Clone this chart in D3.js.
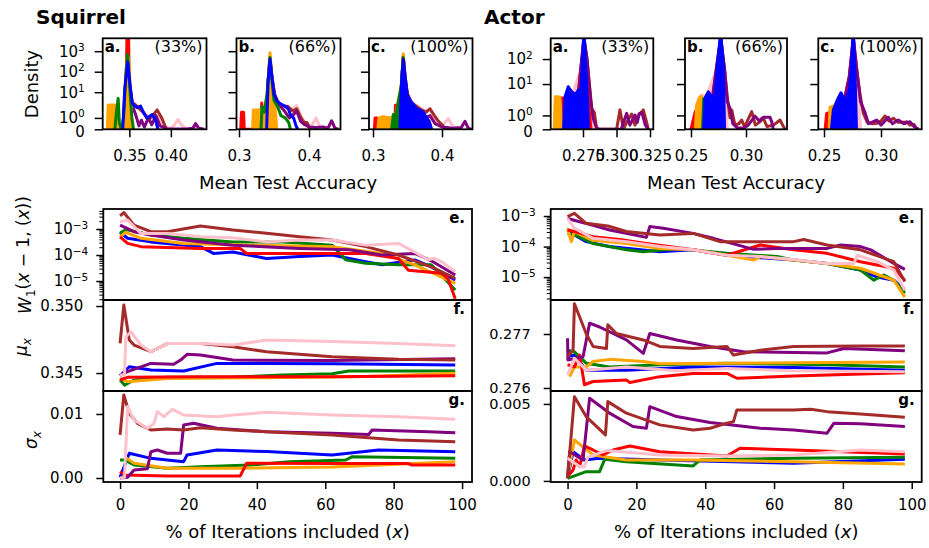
<!DOCTYPE html>
<html>
<head>
<meta charset="utf-8">
<script src="https://cdn.jsdelivr.net/npm/d3@7"></script>
<style>
  body { margin: 0; background: #fff; }
  text { font-family: "DejaVu Sans", sans-serif; }
</style>
</head>
<body>
<svg width="929" height="548"></svg>
<script>
// ---------------- data ----------------
const colors = { red: "#ff0000", orange: "#ffa500", green: "#008000", blue: "#0000ff",
                 purple: "#800080", brown: "#a52a2a", pink: "#ffc0cb" };

// density curves: [mean test accuracy, density]
const squirrel33 = {
  pink:   [[0.343,0],[0.3455,30],[0.348,500],[0.3505,25],[0.354,3],[0.36,2],[0.366,1.5],[0.372,1.2],[0.378,1.0],[0.385,1.1],[0.392,0.3],[0.399,0.05],[0.4045,0.4],[0.4085,0.85],[0.4125,0.4],[0.418,0.05],[0.43,0.1],[0.44,0]],
  brown:  [[0.343,0],[0.3455,30],[0.348,500],[0.3505,20],[0.3535,3],[0.357,2.5],[0.362,1.8],[0.367,1.5],[0.3725,0.8],[0.378,1.2],[0.3835,1.7],[0.389,1.0],[0.3945,0]],
  purple: [[0.343,0],[0.3455,25],[0.348,400],[0.3505,15],[0.354,2],[0.358,1.2],[0.3615,0.3],[0.3645,0.8],[0.368,0.2],[0.373,1.0],[0.377,0.4],[0.382,1.2],[0.387,0.3],[0.395,0.05],[0.42,0.02],[0.4265,0.1],[0.4298,0.5],[0.4335,0.1],[0.44,0]],
  red:    [[0.3445,0],[0.3462,40],[0.3472,8000],[0.349,8000],[0.3498,40],[0.351,0]],
  orange: [[0.3235,0],[0.3245,2.3],[0.329,2.4],[0.334,2.3],[0.3355,0],[0.3425,0.3],[0.3455,60],[0.3478,650],[0.3495,300],[0.352,4],[0.3535,0]],
  green:  [[0.3325,0],[0.3345,1.5],[0.3365,5],[0.338,0.5],[0.3405,0],[0.343,1],[0.3455,40],[0.3478,700],[0.3495,80],[0.3515,4],[0.353,1],[0.355,0]],
  blue:   [[0.342,0],[0.3445,15],[0.348,300],[0.351,20],[0.3535,3],[0.3555,2.3],[0.3595,1.9],[0.3635,2.1],[0.3675,1.4],[0.3715,1.0],[0.3775,1.3],[0.3815,0.8],[0.3845,0]]
};
const squirrel66 = {
  pink:   [[0.339,0],[0.3415,30],[0.3443,500],[0.347,60],[0.351,8],[0.357,3],[0.365,2],[0.374,1.6],[0.3824,2.2],[0.39,1.0],[0.397,0.4],[0.4035,0.3],[0.41,1.0],[0.415,0.3],[0.42,0]],
  brown:  [[0.339,0],[0.3415,30],[0.3443,500],[0.347,60],[0.351,8],[0.356,3],[0.362,2.2],[0.37,2],[0.377,1.6],[0.3824,1.8],[0.3885,1.0],[0.393,0.6],[0.397,0.6],[0.402,0]],
  purple: [[0.339,0],[0.3415,25],[0.3443,400],[0.347,50],[0.351,6],[0.357,2.5],[0.365,1.6],[0.372,1.0],[0.378,1.3],[0.3824,1.6],[0.388,0.7],[0.394,0.4],[0.4,0.2],[0.41,0.15],[0.42,0.2],[0.427,0.1],[0.4324,0.75],[0.437,0.1],[0.442,0]],
  red:    [[0.3025,0],[0.3035,1.5],[0.3065,1.5],[0.3075,0],[0.331,0],[0.3325,3],[0.334,0.5],[0.341,5],[0.344,500],[0.347,30],[0.35,0]],
  orange: [[0.3195,0],[0.3205,1.7],[0.337,1.7],[0.3405,10],[0.3443,850],[0.347,40],[0.351,3],[0.354,0]],
  green:  [[0.3315,0],[0.333,2],[0.336,1.5],[0.34,8],[0.3443,500],[0.347,40],[0.35,4],[0.355,2],[0.36,1.2],[0.366,1.0],[0.371,0.6],[0.3735,0]],
  blue:   [[0.3395,0],[0.3415,30],[0.3443,400],[0.347,60],[0.35,8],[0.3538,4],[0.3585,2.8],[0.3633,2.3],[0.367,2],[0.3705,1.8],[0.374,1.2],[0.378,1.0],[0.3815,0.3],[0.384,0]]
};
const squirrel100 = {
  pink:   [[0.338,0],[0.3415,40],[0.3439,600],[0.3465,60],[0.35,8],[0.357,3],[0.366,2],[0.375,1.6],[0.3826,1.8],[0.39,0.8],[0.397,0.3],[0.403,0.5],[0.4092,0.95],[0.414,0.4],[0.42,0.1],[0.43,0]],
  brown:  [[0.338,0],[0.3415,40],[0.3439,600],[0.3465,60],[0.35,8],[0.356,3],[0.363,2],[0.37,1.7],[0.377,1.5],[0.3826,1.8],[0.389,1.2],[0.395,0.7],[0.4,0.4],[0.405,0]],
  purple: [[0.338,0],[0.3415,30],[0.3439,500],[0.3465,50],[0.35,6],[0.357,2.5],[0.366,1.5],[0.375,1.0],[0.3826,1.2],[0.39,0.5],[0.4,0.2],[0.415,0.1],[0.428,0.15],[0.4333,0.7],[0.438,0.1],[0.443,0]],
  red:    [[0.302,0],[0.303,1],[0.3055,1],[0.3065,0],[0.3185,0],[0.3195,1],[0.3215,1],[0.3225,0],[0.3315,0],[0.3325,2.3],[0.3345,2.3],[0.337,1],[0.3415,20],[0.3439,600],[0.3465,20],[0.349,0]],
  orange: [[0.307,0],[0.3085,1],[0.315,1.1],[0.325,1.0],[0.333,1.3],[0.3415,30],[0.3439,750],[0.3465,40],[0.349,3],[0.353,2],[0.358,1.6],[0.363,1.4],[0.368,1.0],[0.372,0.7],[0.3745,0]],
  green:  [[0.327,0],[0.3295,1.3],[0.333,1.2],[0.341,20],[0.3439,500],[0.3465,20],[0.351,2.5],[0.3536,3],[0.357,1],[0.36,0]],
  blue:   [[0.339,0],[0.3415,40],[0.3439,400],[0.3465,60],[0.3495,8],[0.3536,4],[0.3585,2.5],[0.3633,1.8],[0.368,1.7],[0.3729,1.5],[0.3778,1],[0.3815,0.7],[0.385,0]]
};
const actor33 = {
  pink:   [[0.263,0],[0.2665,3],[0.2735,40],[0.2757,600],[0.278,60],[0.281,1],[0.283,0]],
  brown:  [[0.262,0],[0.2665,3],[0.2715,4],[0.2735,50],[0.2757,700],[0.278,100],[0.2805,4],[0.2815,1.5],[0.2835,1.2],[0.2852,0],[0.3001,0],[0.3026,1.4],[0.3051,0],[0.3076,0.5],[0.3113,1.1],[0.3138,0.3],[0.3165,1.0],[0.32,1.4],[0.3225,0.5],[0.3237,0]],
  purple: [[0.262,0],[0.2665,3],[0.2715,4],[0.2735,50],[0.2757,700],[0.278,100],[0.2805,3],[0.2825,0.8],[0.2852,0.1],[0.287,0],[0.3035,0],[0.3076,1.15],[0.31,0.3],[0.3138,1.03],[0.3155,0.5],[0.317,1.15],[0.319,1.2],[0.3215,0.3],[0.3237,0]],
  red:    [[0.2575,0],[0.2585,2.8],[0.261,2.7],[0.2625,3.5],[0.2635,0],[0.272,3],[0.2757,300],[0.279,2],[0.281,0]],
  orange: [[0.2535,0],[0.2543,3.1],[0.2578,3.0],[0.259,0]],
  green:  [[0.2715,0],[0.2728,4],[0.2742,4],[0.2757,200],[0.277,2],[0.278,0]],
  blue:   [[0.2605,0],[0.2615,3],[0.264,7.8],[0.2665,5],[0.2678,4.3],[0.2695,4],[0.2715,5.7],[0.2728,3],[0.2745,60],[0.2757,1500],[0.277,60],[0.2785,2],[0.279,0]]
};
const actor66 = {
  pink:   [[0.2585,0],[0.2597,3.6],[0.264,3.5],[0.2735,40],[0.277,600],[0.2805,30],[0.283,0]],
  brown:  [[0.265,0],[0.27,4],[0.2735,60],[0.277,700],[0.2805,40],[0.283,3],[0.2855,0.83],[0.287,1.4],[0.29,0.3],[0.2935,0.4],[0.2961,0.67],[0.2985,0.2],[0.3006,0.5],[0.3052,1.27],[0.3085,0.3],[0.312,0.5],[0.3158,0.8],[0.319,0.2],[0.325,0.3],[0.3309,0.67],[0.334,0.2],[0.3355,0]],
  purple: [[0.265,0],[0.27,4],[0.2735,60],[0.277,700],[0.2805,40],[0.283,2],[0.2855,1.5],[0.288,0.4],[0.292,0.1],[0.298,0.1],[0.302,0.3],[0.3082,0.95],[0.312,0.6],[0.3158,0.87],[0.3218,0.87],[0.3235,0.5],[0.3248,0]],
  red:    [[0.25,0],[0.2536,1.2],[0.2552,1.5],[0.2575,2.6],[0.259,1],[0.261,0]],
  orange: [[0.254,0],[0.2552,1.8],[0.2582,3.1],[0.2597,3.2],[0.261,0]],
  green:  [[0.2605,0],[0.2615,2.5],[0.2645,2.5],[0.266,0],[0.2705,0],[0.2712,2],[0.2722,0]],
  blue:   [[0.2615,0],[0.2627,2.7],[0.2658,4.9],[0.2688,3.1],[0.2718,3.6],[0.2735,30],[0.277,1200],[0.2794,50],[0.2805,0]]
};
const actor100 = {
  pink:   [[0.256,0],[0.262,2],[0.27,3],[0.2757,600],[0.279,20],[0.282,0]],
  brown:  [[0.264,0],[0.2684,3],[0.2722,20],[0.2757,700],[0.279,30],[0.282,3],[0.2845,1.15],[0.288,0.5],[0.2925,0.4],[0.2962,0.43],[0.3,0.6],[0.3035,0.96],[0.307,0.6],[0.3108,0.8],[0.315,0.5],[0.32,0.5],[0.3225,0.55],[0.3254,0.3],[0.329,0.35],[0.3313,0]],
  purple: [[0.264,0],[0.2684,3],[0.2722,20],[0.2757,700],[0.279,30],[0.282,2],[0.286,1.2],[0.289,0.4],[0.2962,0.67],[0.3,0.3],[0.3064,0.87],[0.31,0.4],[0.3152,0.67],[0.32,0.4],[0.3254,0.55],[0.329,0.2],[0.333,0]],
  red:    [[0.251,0],[0.2523,1.15],[0.2545,1.2],[0.256,0]],
  orange: [[0.2545,0],[0.2553,1.6],[0.2596,1.7],[0.2605,0],[0.265,0],[0.2665,2],[0.2705,2],[0.272,0]],
  green:  [[0.2665,0],[0.2684,2.1],[0.27,1.5],[0.2743,1.27],[0.275,0]],
  blue:   [[0.2565,0],[0.2582,1.4],[0.262,2.5],[0.2649,4.5],[0.2668,3],[0.2684,1.9],[0.27,3],[0.2722,5.7],[0.274,40],[0.2757,1500],[0.2772,30],[0.2785,0]]
};

// which density series show as solid areas in each dataset
const squirrelFilled = ["red", "orange"];
const squirrel100Filled = ["red", "orange", "green", "blue"];
const actorFilled = ["red", "orange", "green", "blue", "pink"];

// convergence curves: [% of iterations, value]
const squirrelW1 = {
  blue:   [[0,7.5e-4],[2.2,4.4e-4],[9,3.2e-4],[23.5,2.1e-4],[27.3,1.15e-4],[33,1.3e-4],[42.8,7.4e-5],[52.5,8.7e-5],[62,1.0e-4],[71.8,5.5e-5],[76.6,4.2e-5],[86.2,6.5e-5],[91,3.5e-5],[98,1.1e-5]],
  green:  [[0,6.8e-4],[1.7,9.5e-4],[9,5.9e-4],[18.6,4.4e-4],[33,3.2e-4],[47.6,3.2e-4],[62,2.4e-4],[66,6.5e-5],[71.8,4.8e-5],[81.4,4.2e-5],[91,4.2e-5],[98,4.5e-6]],
  orange: [[0,5.0e-4],[1.7,7.5e-4],[6.1,4.4e-4],[18.6,2.8e-4],[38,2.4e-4],[62,2.1e-4],[76.6,1.15e-4],[86.2,4.2e-5],[98,8.1e-6]],
  red:    [[0,5.0e-4],[2.2,2.8e-4],[6.1,2.1e-4],[23.5,1.8e-4],[35.1,1.8e-4],[37,1.15e-4],[52.5,1.15e-4],[71.8,1.15e-4],[81.4,7.4e-5],[84.3,2.6e-5],[94,2.0e-5],[95.9,1.2e-5],[98,2.1e-6]],
  purple: [[0,1.4e-3],[4.1,7.9e-4],[9,5.9e-4],[18.6,3.8e-4],[33,2.4e-4],[52.5,1.8e-4],[67,1.6e-4],[76.6,1.0e-4],[86.2,1.15e-4],[91,6e-5],[98,1.7e-5]],
  brown:  [[0,3.2e-3],[1.1,4.3e-3],[4.1,1.4e-3],[9,7.9e-4],[13.8,7.9e-4],[23.5,1.3e-3],[33,9.1e-4],[42.8,6.9e-4],[52.5,5.0e-4],[62,3.8e-4],[71.8,2.1e-4],[81.4,1.0e-4],[91,3.5e-5],[98,1.26e-5]],
  pink:   [[0,1.9e-3],[2.2,2.2e-3],[6.1,6.8e-4],[13.8,6.8e-4],[23.5,5.0e-4],[33,4.6e-4],[42.8,3.2e-4],[52.5,3.8e-4],[62,3.8e-4],[71.8,2.4e-4],[81.4,2.8e-4],[86.2,1.3e-4],[90,6.5e-5],[92,7.5e-5],[94,5.5e-5],[98,2.3e-5]]
};
const squirrelMu = {
  blue:   [[0,0.3448],[2.7,0.34547],[9,0.34522],[18.6,0.34515],[28.3,0.34572],[42.8,0.34572],[62,0.3457],[98,0.3456]],
  green:  [[0,0.34448],[1.3,0.3441],[4.1,0.34448],[13.8,0.34468],[33,0.3447],[47.6,0.34485],[62,0.34495],[66.9,0.34515],[98,0.34515]],
  orange: [[0,0.3446],[2.2,0.34435],[13.8,0.3446],[42.8,0.34465],[71.8,0.34475],[98,0.34498]],
  red:    [[0,0.34448],[2.2,0.34468],[23.5,0.34472],[62,0.34472],[98,0.3448]],
  purple: [[0,0.34485],[2.2,0.3451],[9,0.34572],[15.7,0.34565],[17.7,0.34597],[19.6,0.3464],[23.5,0.34635],[33,0.34597],[62,0.34594],[98,0.34607]],
  brown:  [[0,0.34722],[1.1,0.35007],[2.7,0.34746],[4.1,0.34709],[9,0.34659],[13.8,0.3472],[23.5,0.3472],[33,0.34696],[42.8,0.34659],[62,0.34622],[81.4,0.34602],[98,0.34597]],
  pink:   [[0,0.34485],[1.3,0.34485],[1.7,0.34771],[3.2,0.34808],[6.1,0.34709],[9,0.34659],[13.8,0.3472],[23.5,0.3472],[33,0.34709],[42.8,0.34746],[62,0.34735],[81.4,0.3472],[98,0.34704]]
};
const squirrelSigma = {
  blue:   [[0,0.0001],[2.7,0.00386],[9,0.00307],[18.6,0.00255],[19.6,0.00359],[28.3,0.00438],[42.8,0.00412],[62,0.00359],[75.6,0.00438],[98,0.00411]],
  green:  [[0,0.00281],[1.3,0.00281],[4.1,0.00203],[13.8,0.00151],[23.5,0.00177],[38,0.00203],[49.6,0.00255],[66,0.00281],[67.9,0.00333],[98,0.00307]],
  orange: [[1.3,0.00333],[4.1,0.0023],[13.8,0.00151],[33,0.00151],[62,0.0017],[98,0.00255]],
  red:    [[0,0.00099],[1.3,0.00047],[13.8,0.0003],[35.1,0.0003],[37,0.0023],[62,0.00225],[84.3,0.00225],[85.3,0.00203],[98,0.00203]],
  purple: [[0,0],[2.2,0.0001],[4.1,0.00125],[8,0.00145],[9,0.00411],[10.9,0.00438],[13.8,0.00386],[17.7,0.00386],[18.6,0.00828],[21.5,0.00854],[28.3,0.00776],[42.8,0.00724],[62,0.00698],[72.7,0.0068],[73.7,0.0075],[90.1,0.00724],[98,0.00708]],
  brown:  [[0,0.00672],[1.1,0.01297],[2.7,0.0101],[5.1,0.00854],[9,0.0075],[13.8,0.00766],[18.6,0.0075],[23.5,0.00786],[33,0.0075],[42.8,0.00724],[62,0.00672],[81.4,0.00594],[98,0.00568]],
  pink:   [[0,0],[1.3,0.0001],[2.2,0.01115],[4.1,0.00906],[8,0.00776],[9.9,0.0085],[10.9,0.01037],[12.8,0.00958],[15.3,0.01073],[18.6,0.00984],[28.3,0.00958],[33,0.00984],[42.8,0.01026],[62,0.00984],[81.4,0.00958],[98,0.00917]]
};
const actorW1 = {
  blue:   [[0,3.5e-4],[2,2.4e-4],[5.4,1.45e-4],[12.2,1e-4],[26.8,6.8e-5],[36.5,7.8e-5],[46.3,5.2e-5],[65.7,3.6e-5],[75.4,2.8e-5],[85.1,1.7e-5],[90,1.0e-5],[94.8,7.9e-6],[98,3.7e-6]],
  green:  [[0,2.7e-4],[2,2.4e-4],[7.4,1.26e-4],[17.1,7.8e-5],[22,6.8e-5],[31.7,8.7e-5],[46.3,6e-5],[60.9,4.7e-5],[65.7,3.6e-5],[75.4,2.8e-5],[85.1,1.7e-5],[89,7.9e-6],[91.9,1.17e-5],[94.8,7.9e-6],[98,2.95e-6]],
  orange: [[0,4e-4],[1.1,1.45e-4],[2,3.1e-4],[7.4,1.6e-4],[17.1,1.26e-4],[26.8,8.7e-5],[36.5,7.8e-5],[46.3,5.2e-5],[54.1,3.6e-5],[56,4.7e-5],[65.7,3.6e-5],[75.4,2.8e-5],[85.1,1.95e-5],[94.8,7.9e-6],[98,2.2e-6]],
  red:    [[0,3.5e-4],[2,3.1e-4],[7.4,2.1e-4],[15.1,1.7e-4],[22.9,1.26e-4],[36.5,7.8e-5],[46.3,5.2e-5],[56,1.12e-4],[65.7,7.8e-5],[75.4,6e-5],[85.1,3.2e-5],[94.8,1.95e-5],[98,7.9e-6]],
  purple: [[0,8.3e-4],[1.6,7.4e-4],[7.4,5e-4],[12.2,3.5e-4],[22.9,2.0e-4],[23.9,4.5e-4],[27.8,4e-4],[36.5,2.7e-4],[42.4,1.86e-4],[54.1,8.1e-5],[60.9,8.7e-5],[75.4,8.7e-5],[79.3,1.12e-4],[85.1,1.0e-4],[88.1,7.8e-5],[94.8,2.8e-5],[98,1.8e-5]],
  brown:  [[0,9.5e-4],[2,1.23e-3],[5.4,5.75e-4],[11.7,4.7e-4],[17.1,3.1e-4],[26.8,2.4e-4],[36.5,2.7e-4],[44.3,1.45e-4],[65.7,1.45e-4],[68.6,1.7e-4],[75.4,1.12e-4],[85.1,7.8e-5],[94.8,3.2e-5],[98,7.1e-6]],
  pink:   [[0,8.3e-4],[2,4e-4],[7.4,1.86e-4],[17.1,1.45e-4],[26.8,1e-4],[36.5,7.8e-5],[46.3,5.2e-5],[56,4.7e-5],[65.7,3.8e-5],[75.4,2.8e-5],[83.2,2.8e-5],[84.2,5.2e-5],[90,3.2e-5],[94.8,1.7e-5],[98,3.7e-6]]
};
const actorMu = {
  blue:   [[0,0.27658],[2,0.27661],[5.4,0.27633],[17.1,0.27633],[36.5,0.27639],[65.7,0.27638],[98,0.27633]],
  green:  [[0,0.2767],[2,0.27667],[5.4,0.27646],[12.2,0.27639],[26.8,0.27643],[46.3,0.27646],[75.4,0.27643],[98,0.27639]],
  orange: [[0.6,0.27621],[2,0.27639],[5.4,0.27639],[7.4,0.27649],[12.2,0.27653],[22,0.27649],[26.8,0.27645],[46.3,0.27646],[98,0.27648]],
  red:    [[0,0.27643],[2,0.27639],[3.5,0.27661],[4.9,0.27606],[7.4,0.27612],[17.1,0.27615],[18.1,0.2761],[26.8,0.27621],[36.5,0.27627],[46.3,0.27627],[49.2,0.27618],[65.7,0.27622],[98,0.27628]],
  purple: [[0,0.27692],[0.1,0.27652],[4.5,0.27658],[6.4,0.2772],[9.3,0.27713],[17.1,0.27689],[22,0.27664],[23.9,0.27701],[31.7,0.27689],[41.4,0.27677],[51.1,0.27667],[75.4,0.27665],[80.3,0.27673],[98,0.27669]],
  brown:  [[0,0.27658],[1.6,0.2767],[2,0.27756],[5.4,0.27701],[7.4,0.27677],[11.3,0.27673],[11.7,0.27717],[14.2,0.27701],[22,0.27689],[26.8,0.27677],[36.5,0.27673],[46.3,0.27677],[48.2,0.27661],[56,0.2767],[65.7,0.27677],[85.1,0.27678],[98,0.27678]],
  pink:   [[0,0.27624],[2,0.27655],[5.4,0.27633],[17.1,0.27639],[31.7,0.27632],[46.3,0.27636],[65.7,0.27632],[98,0.2763]]
};
const actorSigma = {
  blue:   [[0,0.00017],[1.6,0.0019],[4.9,0.00136],[9.3,0.00147],[26.8,0.00136],[65.7,0.00115],[98,0.00141]],
  green:  [[0,0.00017],[5.4,0.0006],[9.3,0.0006],[10.8,0.00141],[17.1,0.00125],[36.5,0.00097],[38.5,0.00136],[65.7,0.00147],[98,0.00154]],
  orange: [[0,0.00028],[2,0.00266],[7.4,0.00169],[17.1,0.00136],[36.5,0.00136],[65.7,0.00125],[98,0.0011]],
  red:    [[0,0.00028],[1.6,0.00071],[2.5,0.00136],[3.5,0.00093],[4.9,0.00227],[7.4,0.00201],[10.3,0.00169],[13.2,0.00201],[18.1,0.00227],[26.8,0.0019],[46.3,0.00162],[50.1,0.00212],[65.7,0.00201],[98,0.00175]],
  purple: [[0,0.00028],[0.6,0.0019],[4.5,0.00136],[6.4,0.00537],[12.2,0.0044],[19,0.00353],[22.9,0.00342],[23.9,0.00482],[31.7,0.00418],[41.4,0.00379],[56,0.00342],[65.7,0.00331],[75.4,0.0031],[77.4,0.00375],[85.1,0.00372],[98,0.00353]],
  brown:  [[0,0.00017],[2,0.00547],[5.4,0.00418],[11,0.00299],[11.7,0.00515],[17.1,0.0044],[26.8,0.00364],[36.5,0.00331],[41.4,0.00342],[46.3,0.00375],[48.2,0.00385],[49.2,0.00461],[65.7,0.00461],[70.6,0.00466],[75.4,0.0045],[85.1,0.00435],[98,0.00413]],
  pink:   [[0,0.00147],[3.5,0.00093],[4.9,0.00093],[5.9,0.00154],[11.3,0.00197],[26.8,0.00169],[46.3,0.00162],[65.7,0.00169],[85.1,0.00201],[98,0.0019]]
};

const densityOrder = ["pink", "brown", "purple", "red", "orange", "green", "blue"];
const lineOrder = ["blue", "green", "orange", "red", "purple", "brown", "pink"];

// ---------------- drawing ----------------
const svg = d3.select("svg");
let clipN = 0;

// matplotlib-like symlog (linthresh 2, linscale 1)
const adj = 1 / (1 - 1 / 10);
const symlog = d => d <= 2 ? d * adj : 2 * (adj + Math.log10(d / 2));

function clipRect(x0, x1, y0, y1) {
  const id = "clip" + (clipN++);
  svg.append("clipPath").attr("id", id).append("rect")
    .attr("x", x0).attr("y", y0).attr("width", x1 - x0).attr("height", y1 - y0);
  return `url(#${id})`;
}

function styleAxis(g, fs) {
  g.attr("font-size", null).attr("font-family", null);
  g.select(".domain").remove();
  g.selectAll(".tick line").attr("stroke", "#000").attr("stroke-width", 1.5);
  g.selectAll(".tick text").attr("fill", "#000").style("font-size", fs + "px");
}

function supText(t, base, exp, fs) {
  t.text(null);
  t.append("tspan").text(base);
  t.append("tspan").attr("dy", "-0.55em").style("font-size", (fs * 0.7) + "px").text(exp);
}

function frame(x0, x1, y0, y1) {
  svg.append("rect").attr("x", x0).attr("y", y0).attr("width", x1 - x0).attr("height", y1 - y0)
    .attr("fill", "none").attr("stroke", "#000").attr("stroke-width", 1.8);
}

function drawDensity(x0, x1, xDomain, topUnits, xTicks, xFmt, yTicks, showY, data, filled, letter, pct) {
  const y0 = 38.3, y1 = 129.3;
  const x = d3.scaleLinear().domain(xDomain).range([x0, x1]);
  const yl = d3.scaleLinear().domain([0, topUnits]).range([y1, y0]);
  const area = d3.area().x(d => x(d[0])).y0(y1).y1(d => yl(symlog(d[1])));
  const line = d3.line().x(d => x(d[0])).y(d => yl(symlog(d[1])));

  const g = svg.append("g").attr("clip-path", clipRect(x0, x1, y0, y1));
  densityOrder.forEach(c => {
    if (!data[c]) return;
    const isFilled = filled.includes(c);
    g.append("path").attr("d", isFilled ? area(data[c]) : line(data[c]))
      .attr("fill", isFilled ? colors[c] : "none").attr("stroke", colors[c])
      .attr("stroke-width", 3).attr("stroke-linejoin", "round");
  });

  const ax = svg.append("g").attr("transform", `translate(0,${y1})`)
    .call(d3.axisBottom(x).tickValues(xTicks).tickFormat(xFmt).tickSize(8).tickPadding(13).tickSizeOuter(0));
  styleAxis(ax, 15);

  const ay = svg.append("g").attr("transform", `translate(${x0},0)`)
    .call(d3.axisLeft(yl).tickValues(yTicks.map(symlog)).tickSize(8).tickPadding(10).tickSizeOuter(0));
  styleAxis(ay, 15);
  ay.selectAll(".tick text").each(function(d, i) {
    const t = d3.select(this);
    if (!showY) { t.remove(); return; }
    const v = yTicks[i];
    if (v === 0) t.text("0").attr("dy", "0.45em");
    else supText(t, "10", String(Math.round(Math.log10(v))), 15);
  });

  frame(x0, x1, y0, y1);
  svg.append("text").attr("x", x0 + 2).attr("y", y0 + 14).attr("font-weight", "bold")
    .style("font-size", "15px").text(letter);
  svg.append("text").attr("x", x1 - 4).attr("y", y0 + 14).attr("text-anchor", "end")
    .style("font-size", "16px").text(pct);
}

function drawLines(x0, x1, y0, y1, y, data, letter) {
  const x = d3.scaleLinear().domain([-4.9, 102.9]).range([x0, x1]);
  const line = d3.line().x(d => x(d[0])).y(d => y(d[1]));
  const g = svg.append("g").attr("clip-path", clipRect(x0, x1, y0, y1));
  lineOrder.forEach(c => {
    g.append("path").attr("d", line(data[c])).attr("fill", "none")
      .attr("stroke", colors[c]).attr("stroke-width", 3)
      .attr("stroke-linejoin", "round").attr("stroke-linecap", "butt");
  });
  svg.append("text").attr("x", x1 - 7).attr("y", y0 + 14).attr("text-anchor", "end")
    .attr("font-weight", "bold").style("font-size", "15px").text(letter);
  return x;
}

function logAxis(x0, y, majors, domain, pad) {
  const minors = [];
  for (let k = -7; k <= -1; k++)
    for (let m = 2; m <= 9; m++) {
      const v = m * Math.pow(10, k);
      if (v >= domain[0] && v <= domain[1]) minors.push(v);
    }
  const am = svg.append("g").attr("transform", `translate(${x0},0)`)
    .call(d3.axisLeft(y).tickValues(minors).tickFormat("").tickSize(4).tickSizeOuter(0));
  styleAxis(am, 15);
  am.selectAll(".tick line").attr("stroke-width", 1);
  const a = svg.append("g").attr("transform", `translate(${x0},0)`)
    .call(d3.axisLeft(y).tickValues(majors).tickSize(7).tickPadding(pad).tickSizeOuter(0));
  styleAxis(a, 15);
  a.selectAll(".tick text").each(function(d) {
    supText(d3.select(this), "10", "\u2212" + Math.round(-Math.log10(d)), 15);
  });
}

function linAxis(x0, y, ticks, fmt, pad, fs) {
  const a = svg.append("g").attr("transform", `translate(${x0},0)`)
    .call(d3.axisLeft(y).tickValues(ticks).tickFormat(fmt).tickSize(7).tickPadding(pad).tickSizeOuter(0));
  styleAxis(a, fs);
}

// ---- titles ----
svg.append("text").attr("x", 36).attr("y", 24).attr("font-weight", "bold").style("font-size", "20px").text("Squirrel");
svg.append("text").attr("x", 484).attr("y", 24).attr("font-weight", "bold").style("font-size", "20px").text("Actor");

// ---- density row ----
const f2 = d3.format(".2f"), f1 = d3.format(".1f"), f3 = d3.format(".3f");
drawDensity(102.7, 206.5, [0.3179, 0.4429], 8.88, [0.35, 0.40], f2, [0, 1, 10, 100, 1000], true, squirrel33, squirrelFilled, "a.", "(33%)");
drawDensity(236.5, 340.5, [0.29643, 0.445], 8.88, [0.3, 0.4], f1, [0, 1, 10, 100, 1000], false, squirrel66, squirrelFilled, "b.", "(66%)");
drawDensity(369, 472.5, [0.2942, 0.4442], 8.88, [0.3, 0.4], f1, [0, 1, 10, 100, 1000], false, squirrel100, squirrel100Filled, "c.", "(100%)");
drawDensity(550.7, 653.3, [0.2509, 0.32746], 7.28, [0.275, 0.300, 0.325], f3, [0, 1, 10, 100], true, actor33, actorFilled, "a.", "(33%)");
drawDensity(685, 787, [0.24455, 0.33727], 7.28, [0.25, 0.30], f2, [0, 1, 10, 100], false, actor66, actorFilled, "b.", "(66%)");
drawDensity(818.3, 921.7, [0.245, 0.3357], 7.28, [0.25, 0.30], f2, [0, 1, 10, 100], false, actor100, actorFilled, "c.", "(100%)");

svg.append("text").attr("transform", "translate(38,84) rotate(-90)").attr("text-anchor", "middle")
  .style("font-size", "18px").text("Density");
svg.append("text").attr("x", 288).attr("y", 189).attr("text-anchor", "middle").style("font-size", "18px").text("Mean Test Accuracy");
svg.append("text").attr("x", 736).attr("y", 189).attr("text-anchor", "middle").style("font-size", "18px").text("Mean Test Accuracy");

// ---- convergence panels ----
const rows = [[209, 300], [300, 391], [391, 482]];
const cols = [
  { x0: 103.3, x1: 472, w1: squirrelW1, mu: squirrelMu, sg: squirrelSigma,
    eDom: [Math.pow(10, -5.73), Math.pow(10, -2.23)], fDom: [0.34366, 0.35045], gDom: [-0.000625, 0.01359],
    fTicks: [0.345, 0.350], fFmt: f3, gTicks: [0, 0.01], gFmt: f2, fs: 15 },
  { x0: 550.7, x1: 921.7, w1: actorW1, mu: actorMu, sg: actorSigma,
    eDom: [Math.pow(10, -5.75), Math.pow(10, -2.77)], fDom: [0.275944, 0.27763], gDom: [-0.00007, 0.00584],
    fTicks: [0.276, 0.277], fFmt: f3, gTicks: [0, 0.005], gFmt: f3, fs: 14.5 }
];

cols.forEach(c => {
  const ye = d3.scaleLog().domain(c.eDom).range([rows[0][1], rows[0][0]]);
  const yf = d3.scaleLinear().domain(c.fDom).range([rows[1][1], rows[1][0]]);
  const yg = d3.scaleLinear().domain(c.gDom).range([rows[2][1], rows[2][0]]);
  drawLines(c.x0, c.x1, rows[0][0], rows[0][1], ye, c.w1, "e.");
  drawLines(c.x0, c.x1, rows[1][0], rows[1][1], yf, c.mu, "f.");
  const x = drawLines(c.x0, c.x1, rows[2][0], rows[2][1], yg, c.sg, "g.");

  logAxis(c.x0, ye, [1e-3, 1e-4, 1e-5], c.eDom, 8);
  linAxis(c.x0, yf, c.fTicks, c.fFmt, 13, c.fs);
  linAxis(c.x0, yg, c.gTicks, c.gFmt, 13, c.fs);

  const ax = svg.append("g").attr("transform", `translate(0,${rows[2][1]})`)
    .call(d3.axisBottom(x).tickValues([0, 20, 40, 60, 80, 100]).tickSize(7).tickPadding(10).tickSizeOuter(0));
  styleAxis(ax, 15);

  rows.forEach(r => frame(c.x0, c.x1, r[0], r[1]));

  const xl = svg.append("text").attr("x", (c.x0 + c.x1) / 2).attr("y", 538).attr("text-anchor", "middle").style("font-size", "18px");
  xl.append("tspan").text("% of Iterations included (");
  xl.append("tspan").attr("font-style", "italic").text("x");
  xl.append("tspan").text(")");
});

// y labels (left column only)
const w1 = svg.append("text").attr("transform", "translate(25,255) rotate(-90)").attr("text-anchor", "middle")
  .attr("dy", "0.35em").style("font-size", "17px");
w1.append("tspan").attr("font-style", "italic").text("W");
w1.append("tspan").attr("dy", "0.3em").style("font-size", "12px").text("1");
w1.append("tspan").attr("dy", "-0.3em").text("(");
w1.append("tspan").attr("font-style", "italic").text("x");
w1.append("tspan").text(" \u2212 1, (");
w1.append("tspan").attr("font-style", "italic").text("x");
w1.append("tspan").text("))");

const mu = svg.append("text").attr("transform", "translate(21,347) rotate(-90)").attr("text-anchor", "middle")
  .attr("dy", "0.35em").style("font-size", "17px");
mu.append("tspan").attr("font-style", "italic").text("\u03bc");
mu.append("tspan").attr("font-style", "italic").attr("dy", "0.3em").style("font-size", "12px").text("x");

const sg = svg.append("text").attr("transform", "translate(31,440) rotate(-90)").attr("text-anchor", "middle")
  .attr("dy", "0.35em").style("font-size", "17px");
sg.append("tspan").attr("font-style", "italic").text("\u03c3");
sg.append("tspan").attr("font-style", "italic").attr("dy", "0.3em").style("font-size", "12px").text("x");
</script>
</body>
</html>
